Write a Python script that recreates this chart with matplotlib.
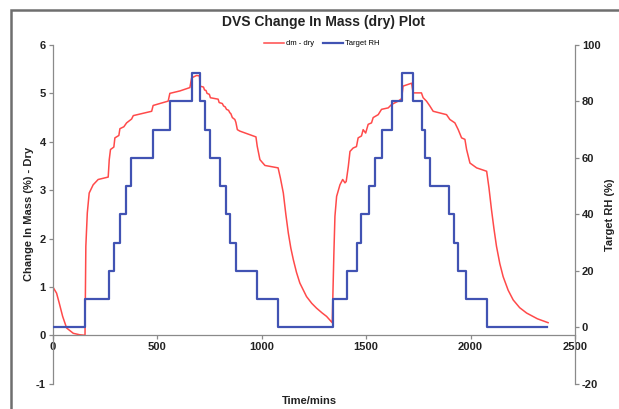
import matplotlib
matplotlib.use("Agg")
import matplotlib.pyplot as plt
from matplotlib.patches import Rectangle

plt.rcParams['font.family'] = ['Liberation Sans', 'DejaVu Sans']
plt.rcParams['axes.unicode_minus'] = False

# dm - dry (change in mass %)
t_mass = [0, 1, 19, 32, 48, 67, 99, 130, 155, 159, 166, 175, 194, 218, 266, 271, 277, 293, 298,
          317, 322, 341, 354, 378, 386, 474, 481, 553, 561, 609, 657, 665, 689, 703, 705, 722,
          727, 734, 739, 750, 755, 792, 797, 812, 818, 826, 832, 842, 848, 853, 860, 872, 877,
          884, 896, 973, 979, 992, 1016, 1079, 1090, 1104, 1116, 1128, 1140, 1152, 1167, 1183,
          1200, 1215, 1240, 1263, 1290, 1311, 1338,
          1346, 1351, 1359, 1375, 1388, 1399, 1405, 1415, 1423, 1438, 1454, 1462, 1478, 1486,
          1498, 1510, 1526, 1534, 1558, 1574, 1606, 1622, 1654, 1670, 1677, 1718, 1725, 1765,
          1773, 1789, 1805, 1821, 1885, 1901, 1925, 1941, 1957, 1973, 1981, 1997, 2029, 2077,
          2088, 2100, 2112, 2124, 2140, 2156, 2180, 2204, 2235, 2268, 2320, 2371]
dm_dry = [1.28, 1.0, 0.87, 0.66, 0.39, 0.15, 0.04, 0.01, 0.0, 1.84, 2.53, 2.94, 3.11, 3.22, 3.27,
          3.63, 3.84, 3.89, 4.08, 4.13, 4.27, 4.31, 4.39, 4.47, 4.54, 4.63, 4.75, 4.84, 5.0, 5.05,
          5.12, 5.32, 5.37, 5.36, 5.15, 5.13, 5.07, 5.06, 5.0, 4.98, 4.91, 4.88, 4.81, 4.79, 4.74,
          4.72, 4.67, 4.65, 4.6, 4.58, 4.5, 4.46, 4.4, 4.25, 4.22, 4.1, 3.91, 3.63, 3.51, 3.46,
          3.25, 2.94, 2.5, 2.11, 1.8, 1.56, 1.3, 1.08, 0.93, 0.8, 0.66, 0.56, 0.46, 0.39, 0.26,
          1.7, 2.46, 2.87, 3.11, 3.22, 3.15, 3.18,
          3.49, 3.8, 3.87, 3.9, 4.08, 4.12, 4.25, 4.18, 4.36, 4.39, 4.5, 4.56, 4.67, 4.7, 4.77,
          4.84, 4.89, 5.15, 5.21, 5.01, 5.01, 4.91, 4.84, 4.74, 4.63, 4.56, 4.46, 4.39, 4.25,
          4.08, 4.05, 3.84, 3.56, 3.46, 3.39,
          3.05, 2.6, 2.2, 1.84, 1.48, 1.21, 0.93, 0.73, 0.57, 0.46, 0.34, 0.26]

# Target RH step changes (time each step starts, RH held)
t_rh = [0, 155, 268, 295, 321, 349, 377, 478, 563, 666, 705, 730, 754, 800, 829, 851, 878, 978,
        1080, 1340, 1410, 1455, 1478, 1512, 1542, 1577, 1623, 1673, 1723, 1766, 1784, 1805, 1895,
        1920, 1942, 1976, 2077, 2368]
rh = [0, 10, 20, 30, 40, 50, 60, 70, 80, 90, 80, 70, 60, 50, 40, 30, 20, 10, 0,
      10, 20, 30, 40, 50, 60, 70, 80, 90, 80, 70, 60, 50, 40, 30, 20, 10, 0, 0]

red = '#ff4a4a'
blue = '#4153b3'
grey = '#8a8a8a'

fig = plt.figure(figsize=(6.19, 4.09), dpi=100)
ax = fig.add_axes([0.085, 0.062, 0.844, 0.828])
ax2 = ax.twinx()

l1, = ax.plot(t_mass, dm_dry, color=red, lw=1.1, label='dm - dry')
l2, = ax2.step(t_rh, rh, where='post', color=blue, lw=1.6, label='Target RH')

ax.set_xlim(0, 2500)
ax.set_ylim(-1, 6)
ax2.set_ylim(-20, 100)
ax.set_xticks(range(0, 2501, 500))
ax.set_yticks(range(-1, 7))
ax2.set_yticks(range(-20, 101, 20))

for a in (ax, ax2):
    a.spines['top'].set_visible(False)
    for s in a.spines.values():
        s.set_color(grey)
        s.set_linewidth(0.9)
ax.spines['bottom'].set_position(('data', 0))
ax2.spines['bottom'].set_visible(False)
ax.spines['right'].set_visible(False)
ax2.spines['left'].set_visible(False)

ax.tick_params(axis='both', colors=grey, length=3, width=0.9, labelsize=8, pad=2)
ax2.tick_params(axis='y', colors=grey, length=3, width=0.9, labelsize=8, pad=2)
for lab in ax.get_xticklabels() + ax.get_yticklabels() + ax2.get_yticklabels():
    lab.set_color('#222222')
    lab.set_fontweight('bold')

ax.set_ylabel('Change In Mass (%) - Dry', fontsize=8, fontweight='bold', color='#222222', labelpad=1)
ax2.set_ylabel('Target RH (%)', fontsize=8, fontweight='bold', color='#222222', labelpad=3)
fig.text(0.5, 0.02, 'Time/mins', ha='center', va='center', fontsize=8, fontweight='bold', color='#222222')
fig.text(0.522, 0.945, 'DVS Change In Mass (dry) Plot', ha='center', va='center',
         fontsize=10, fontweight='bold', color='#222222')
fig.legend([l1, l2], ['dm - dry', 'Target RH'], loc='center', bbox_to_anchor=(0.52, 0.893),
           ncol=2, frameon=False, fontsize=5.5, handlelength=2.6, columnspacing=1.2,
           handletextpad=0.3)

# chart-area frame, cropped at right and bottom
fig.patches.append(Rectangle((11 / 619, -0.1), 1.2, 1 - 10 / 409 + 0.1, transform=fig.transFigure,
                             fill=False, edgecolor='#6e6e6e', lw=1.8))

fig.savefig('out.png', dpi=100)
